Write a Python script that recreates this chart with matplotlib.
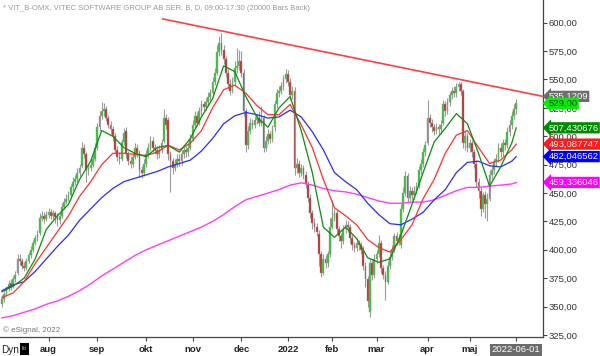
import numpy as np
import pandas as pd
import matplotlib
matplotlib.use('Agg')
import matplotlib.pyplot as plt
from matplotlib.patches import Rectangle
from matplotlib.transforms import blended_transform_factory

plt.rcParams['font.family'] = ['Liberation Sans', 'DejaVu Sans']

# trading days on the chart (Stockholm exchange holidays left out)
holidays = ['2021-12-24', '2021-12-31', '2022-01-06', '2022-04-15', '2022-04-18', '2022-05-26']
dates = pd.bdate_range('2021-07-02', '2022-06-01')
dates = dates[~dates.isin(pd.to_datetime(holidays))]

# daily OHLC, Jul 2021 .. 1 Jun 2022
opens = [352, 357, 361, 366, 371, 368, 374, 380, 392, 390, 386, 384, 390, 395, 400, 406, 410, 415, 428, 430, 427,
         431, 433, 430, 432, 429, 426, 430, 438, 442, 445, 448, 455, 460, 462, 468, 474, 490, 484, 470, 472, 475, 480,
         490, 508, 518, 522, 524, 516, 510, 506, 500, 488, 482, 480, 495, 505, 484, 478, 476, 482, 490, 485, 470, 468,
         476, 484, 490, 496, 490, 488, 484, 488, 496, 516, 514, 484, 478, 472, 476, 480, 478, 484, 488, 486, 490,
         498, 510, 518, 512, 522, 528, 526, 530, 535, 538, 548, 556, 574, 582, 576, 568, 556, 546, 540, 548, 560, 562,
         566, 556, 522, 492, 505, 512, 510, 514, 516, 512, 516, 490, 496, 502, 498, 508, 528, 538, 540, 544, 550,
         555, 548, 536, 540, 472, 476, 468, 472, 466, 458, 446, 432, 424, 420, 414, 396, 380, 392, 388, 396,
         420, 428, 432, 418, 412, 408, 418, 422, 420, 410, 404, 402, 406, 404, 400, 386, 374, 345, 388, 378,
         392, 396, 406, 384, 378, 372, 386, 394, 400, 412, 408, 404, 436, 450, 465, 446, 452, 448, 452, 456, 470, 476, 486,
         494, 516, 512, 508, 505, 508, 506, 512, 528, 522, 530, 536, 540, 538, 543, 546, 540, 494, 500,
         490, 494, 486, 476, 460, 452, 436, 448, 440, 445, 466, 470, 478, 480, 490, 486, 494, 492, 504, 510, 518,
         524]
highs = [360, 364, 368, 373, 374, 377, 381, 396, 396, 393, 389, 393, 398, 403, 409, 413, 417, 432, 434, 433, 434,
         437, 436, 435, 434, 432, 433, 441, 446, 449, 452, 458, 464, 466, 472, 476, 495, 493, 486, 476, 479, 484, 494,
         512, 522, 530, 529, 527, 519, 513, 509, 503, 491, 486, 498, 507, 508, 487, 482, 485, 494, 493, 488, 474, 480,
         488, 494, 500, 499, 493, 491, 492, 498, 524, 520, 517, 487, 481, 480, 484, 484, 488, 492, 491, 494, 502,
         514, 522, 521, 526, 532, 531, 534, 539, 542, 552, 560, 580, 588, 591, 580, 571, 559, 550, 552, 566, 578, 576,
         575, 559, 525, 509, 516, 515, 518, 520, 522, 527, 519, 500, 506, 505, 510, 532, 542, 544, 548, 554, 559,
         558, 551, 544, 543, 481, 479, 476, 475, 469, 461, 449, 435, 428, 424, 417, 399, 396, 395, 399, 428,
         444, 436, 435, 421, 415, 422, 426, 425, 423, 413, 407, 410, 409, 407, 403, 389, 377, 392, 391, 396,
         400, 413, 409, 387, 381, 390, 398, 404, 415, 416, 414, 440, 455, 469, 468, 456, 455, 456, 460, 474, 480, 490, 496,
         532, 520, 515, 511, 512, 511, 514, 532, 531, 534, 539, 543, 544, 547, 548, 548, 542, 505, 503,
         498, 497, 489, 479, 463, 455, 451, 452, 450, 470, 474, 481, 484, 494, 494, 498, 498, 508, 514, 522, 528,
         533]
lows = [350, 354, 359, 364, 365, 366, 372, 378, 387, 383, 381, 382, 388, 393, 398, 404, 408, 413, 425, 424, 425,
        428, 427, 427, 424, 421, 423, 428, 436, 440, 443, 446, 452, 457, 460, 465, 472, 481, 460, 466, 469, 473, 478,
        488, 505, 515, 518, 513, 507, 502, 496, 485, 478, 476, 478, 492, 481, 475, 472, 473, 480, 482, 464, 463, 465,
        473, 481, 487, 486, 484, 480, 481, 485, 494, 506, 479, 451, 467, 469, 473, 474, 475, 481, 482, 483, 488,
        496, 507, 509, 510, 519, 522, 523, 527, 532, 536, 545, 554, 571, 572, 564, 552, 542, 536, 538, 545, 556, 558,
        552, 518, 486, 489, 502, 506, 507, 511, 509, 509, 486, 487, 493, 494, 495, 505, 525, 535, 537, 541, 547,
        544, 532, 533, 466, 468, 464, 465, 462, 454, 442, 428, 418, 416, 412, 386, 376, 378, 384, 385, 394,
        418, 425, 414, 408, 402, 405, 415, 416, 406, 400, 398, 399, 400, 396, 382, 367, 350, 341, 373, 375,
        388, 394, 380, 374, 356, 370, 383, 391, 398, 404, 404, 402, 433, 447, 442, 443, 444, 445, 449, 454, 467, 473, 483,
        492, 508, 504, 501, 502, 502, 503, 510, 518, 520, 527, 533, 535, 535, 540, 536, 490, 488, 486,
        486, 482, 472, 455, 446, 430, 433, 428, 425, 443, 462, 467, 474, 477, 482, 483, 488, 490, 500, 506, 515,
        520]
closes = [357, 361, 366, 370, 368, 374, 378, 392, 390, 386, 384, 390, 395, 400, 406, 410, 414, 428, 430, 427, 431,
          433, 430, 432, 429, 426, 430, 438, 442, 445, 448, 455, 460, 462, 468, 472, 490, 484, 470, 472, 475, 480, 490,
          508, 518, 522, 524, 516, 510, 506, 500, 488, 482, 480, 495, 503, 484, 478, 476, 482, 490, 485, 470, 468, 476,
          484, 490, 496, 490, 488, 484, 488, 494, 516, 510, 484, 478, 472, 476, 480, 478, 484, 488, 486, 490, 498,
          510, 518, 512, 522, 528, 526, 530, 535, 538, 548, 556, 574, 582, 576, 568, 556, 546, 540, 548, 560, 562, 566,
          556, 522, 492, 505, 512, 510, 514, 516, 512, 514, 490, 496, 502, 498, 506, 528, 538, 540, 544, 550, 555,
          548, 536, 540, 472, 476, 468, 472, 466, 458, 446, 432, 424, 420, 416, 396, 380, 392, 388, 396, 420,
          428, 432, 418, 412, 408, 418, 422, 420, 410, 404, 402, 406, 404, 400, 386, 374, 355, 388, 378, 392,
          396, 406, 384, 378, 372, 386, 394, 400, 412, 408, 410, 436, 450, 465, 446, 452, 448, 452, 456, 470, 476, 486, 492,
          516, 512, 508, 505, 508, 506, 510, 528, 522, 530, 536, 540, 538, 543, 546, 540, 494, 500, 490,
          494, 486, 476, 460, 452, 436, 448, 440, 445, 466, 470, 478, 480, 490, 486, 494, 492, 504, 510, 518, 524,
          529]

# moving averages read every 5th bar
ma_idx = list(range(0, 231, 5)) + [232]
ma10 = [363, 368, 375, 392, 418, 430, 440, 462, 478, 505, 500, 490, 485, 482, 490, 492, 486, 498, 517, 533, 562, 557,
        535, 517, 508, 525, 535, 505, 468, 420, 411, 420, 410, 393, 389, 392, 413, 440, 468, 495, 507, 520, 511, 485,
        456, 473, 494, 507.430676]
ma20 = [358, 362, 372, 388, 402, 416, 430, 447, 460, 475, 485, 485, 484, 483, 486, 492, 488, 494, 505, 525, 541, 545,
        538, 527, 519, 519, 528, 510, 490, 462, 437, 430, 422, 409, 402, 398, 409, 422, 445, 462, 485, 501, 505, 490,
        476, 479, 488, 493.087747]
ma50 = [364, 369, 372, 381, 392, 403, 413, 426, 436, 446, 454, 460, 463, 466, 469, 473, 476, 479, 487, 498, 511, 518,
        521, 519, 516, 517, 523, 517, 504, 488, 468, 460, 453, 441, 431, 423, 422, 427, 433, 444, 453, 468, 477, 478,
        474, 473, 478, 482.046562]
ma200 = [340, 342, 345, 348, 352, 355, 359, 364, 370, 377, 383, 389, 395, 400, 404, 408, 412, 416, 420, 425, 431, 438,
         444, 447, 450, 453, 457, 459, 457, 454, 452, 451, 449, 446, 443, 441, 441, 442, 442, 444, 448, 452, 455, 455,
         456, 457, 458, 459.336046]

# resistance line
trend_x = [72.6, 244.1]
trend_y = [603.3, 535.1209]

month_names = {8: 'aug', 9: 'sep', 10: 'okt', 11: 'nov', 12: 'dec', 1: '2022', 2: 'feb', 3: 'mar', 4: 'apr', 5: 'maj'}

fig = plt.figure(figsize=(6, 3.56), dpi=100)
ax = fig.add_axes([0, 19 / 356, 543 / 600, 337 / 356])

x = np.arange(len(closes))
o = np.array(opens, float); h = np.array(highs, float)
l = np.array(lows, float); c = np.array(closes, float)
up = c >= o

ax.vlines(x, l, h, color='#9a9a9a', lw=0.8, zorder=2)
ax.bar(x, c - o, bottom=o, width=0.8, color=np.where(up, '#2ec82e', '#c42a2a'),
       edgecolor='#9a9a9a', linewidth=0.3, zorder=3)

ax.plot(ma_idx, ma200, color='#ff3cff', lw=1.0, zorder=4)
ax.plot(ma_idx, ma50, color='#2a2aff', lw=0.9, zorder=4)
ax.plot(ma_idx, ma20, color='#ff3030', lw=0.9, zorder=4)
ax.plot(ma_idx, ma10, color='#0c8c0c', lw=0.9, zorder=4)
ax.plot(trend_x, trend_y, color='#ff4040', lw=1.2, zorder=4)

ax.set_xlim(-0.9, 244.1)
ax.set_ylim(323.2, 620)

for s in ['left', 'top']:
    ax.spines[s].set_visible(False)
for s in ['right', 'bottom']:
    ax.spines[s].set_color('#444444')
    ax.spines[s].set_linewidth(0.9)

yt = np.arange(325, 601, 25)
ax.yaxis.tick_right()
ax.set_yticks(yt)
ax.set_yticklabels([f'{v:.2f}'.replace('.', ',') for v in yt])
ax.tick_params(axis='y', direction='out', length=3, width=0.8, pad=1, labelsize=6.8,
               colors='#444444', labelcolor='#333333')

# month ticks at first trading day of each month
pos, labs = [], []
for i in range(1, len(dates)):
    if dates[i].month != dates[i - 1].month and dates[i].month in month_names:
        pos.append(i)
        labs.append(month_names[dates[i].month])
pos.append(len(dates) - 1)
labs.append(dates[-1].strftime('%Y-%m-%d'))
ax.set_xticks(pos)
ax.set_xticklabels(labs)
ax.tick_params(axis='x', direction='out', length=3, width=0.8, pad=3, labelsize=6.8,
               colors='#444444', labelcolor='#222222')
for t in ax.get_xticklabels():
    if t.get_text() == labs[-1]:
        t.set_color('white')
        t.set_bbox(dict(facecolor='#6b6b6b', edgecolor='none', pad=1.2))
    else:
        t.set_fontweight('bold')

# value tags on the price scale
tr = blended_transform_factory(ax.transAxes, ax.transData)
tags = [(trend_y[1], '535,1209', '#6e6e6e', 'white'),
        (closes[-1], f'{closes[-1]:.2f}'.replace('.', ','), '#00f000', '#333333'),
        (ma10[-1], f'{ma10[-1]:.6f}'.replace('.', ','), '#008a00', 'white'),
        (ma20[-1], f'{ma20[-1]:.6f}'.replace('.', ','), '#ff1a1a', 'white'),
        (ma50[-1], f'{ma50[-1]:.6f}'.replace('.', ','), '#0000ff', 'white'),
        (ma200[-1], f'{ma200[-1]:.6f}'.replace('.', ','), '#ff00ff', 'white')]
for val, txt, fc, tc in tags:
    ax.annotate(txt, xy=(1, val), xycoords=tr, xytext=(4, 0), textcoords='offset points',
                va='center', ha='left', fontsize=6.8, color=tc, annotation_clip=False, zorder=6,
                bbox=dict(boxstyle='larrow,pad=0.12', fc=fc, ec='none'))

fig.text(3 / 600, 1 - 8 / 356, '* VIT_B-OMX, VITEC SOFTWARE GROUP AB SER. B, D, 09:00-17:30 (20000 Bars Back)',
         va='center', ha='left', fontsize=5.5, color='#9a9a9a')
fig.text(3 / 600, 26 / 356, '\u00a9 eSignal, 2022', va='center', ha='left', fontsize=5.8, color='#777777')
fig.text(1 / 600, 6 / 356, 'Dyn', va='center', ha='left', fontsize=7.2, color='#222222')
fig.patches.append(Rectangle((20 / 600, 1 / 356), 9 / 600, 12 / 356, transform=fig.transFigure,
                             facecolor='black', edgecolor='none'))
fig.text(24.5 / 600, 7 / 356, 'fo', va='center', ha='center', fontsize=4.5, color='#bbbbbb')

fig.savefig('out.png', dpi=100)
